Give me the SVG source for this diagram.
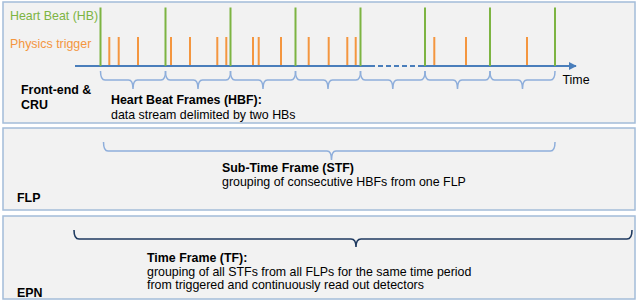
<svg xmlns="http://www.w3.org/2000/svg" width="640" height="304" viewBox="0 0 640 304">
<defs>
<style>
.panel{fill:#f2f2f2;stroke:#a3bcd9;stroke-width:1.5}
text{font-family:"Liberation Sans",Arial,sans-serif;font-size:12.4px;fill:#000}
.b{font-weight:bold}
.hb{stroke:#7db442;stroke-width:2}
.tr{stroke:#f4963f;stroke-width:2}
.axis{stroke:#4a7ebb;stroke-width:2;fill:none}
.br{fill:none;stroke:#8eaedb;stroke-width:1.5}
.br2{fill:none;stroke:#1f3a60;stroke-width:1.6}
</style>
<marker id="ah" viewBox="0 0 10 10" refX="9" refY="5" markerWidth="4" markerHeight="4" orient="auto" markerUnits="strokeWidth">
<path d="M0,0 L10,5 L0,10 z" fill="#4a7ebb"/>
</marker>
</defs>
<rect width="640" height="304" fill="#ffffff"/>
<g id="frontend">
<rect class="panel" x="3" y="2" width="632" height="121"/>
<text x="10" y="20" style="fill:#7db442">Heart Beat (HB)</text>
<text x="10" y="47.5" style="fill:#f4963f">Physics trigger</text>
<text class="b" x="21" y="94">Front-end &amp;</text>
<text class="b" x="21" y="109">CRU</text>
<text class="b" x="111" y="104">Heart Beat Frames (HBF):</text>
<text x="111" y="118.5">data stream delimited by two HBs</text>
<text x="562.5" y="84">Time</text>
</g>
<g id="flp">
<rect class="panel" x="3" y="128" width="632" height="82"/>
<text class="b" x="222" y="172">Sub-Time Frame (STF)</text>
<text x="222" y="186">grouping of consecutive HBFs from one FLP</text>
<text class="b" x="17" y="202">FLP</text>
</g>
<g id="epn">
<rect class="panel" x="3" y="216" width="632" height="83"/>
<text class="b" x="147" y="262">Time Frame (TF):</text>
<text x="147" y="276">grouping of all STFs from all FLPs for the same time period</text>
<text x="147" y="289">from triggered and continuously read out detectors</text>
<text class="b" x="17" y="297">EPN</text>
</g>
<g id="connectors">
<path class="axis" d="M75,66 H370" />
<path class="axis" d="M370,66 H418" stroke-dasharray="5,3"/>
<path class="axis" d="M418,66 H576" marker-end="url(#ah)"/>
<g class="hb">
<line x1="100.5" y1="7.5" x2="100.5" y2="66"/>
<line x1="165.5" y1="7.5" x2="165.5" y2="66"/>
<line x1="230.5" y1="7.5" x2="230.5" y2="66"/>
<line x1="295.5" y1="7.5" x2="295.5" y2="66"/>
<line x1="360.5" y1="7.5" x2="360.5" y2="66"/>
<line x1="425" y1="7.5" x2="425" y2="66"/>
<line x1="490" y1="7.5" x2="490" y2="66"/>
<line x1="555" y1="7.5" x2="555" y2="66"/>
</g>
<g class="tr">
<line x1="109.3" y1="37" x2="109.3" y2="65"/>
<line x1="118.7" y1="37" x2="118.7" y2="65"/>
<line x1="138" y1="37" x2="138" y2="65"/>
<line x1="171" y1="37" x2="171" y2="65"/>
<line x1="190" y1="37" x2="190" y2="65"/>
<line x1="217.3" y1="37" x2="217.3" y2="65"/>
<line x1="226.3" y1="37" x2="226.3" y2="65"/>
<line x1="253" y1="37" x2="253" y2="65"/>
<line x1="258.7" y1="37" x2="258.7" y2="65"/>
<line x1="281" y1="37" x2="281" y2="65"/>
<line x1="308.7" y1="37" x2="308.7" y2="65"/>
<line x1="328.7" y1="37" x2="328.7" y2="65"/>
<line x1="347.3" y1="37" x2="347.3" y2="65"/>
<line x1="355.7" y1="37" x2="355.7" y2="65"/>
<line x1="434.3" y1="37" x2="434.3" y2="65"/>
<line x1="466" y1="37" x2="466" y2="65"/>
<line x1="527" y1="37" x2="527" y2="65"/>
</g>
<g class="br">
<path d="M100.5,71 Q100.5,80 105,80 H128.5 Q133,80 133,89 Q133,80 137.5,80 H161 Q165.5,80 165.5,71"/>
<path d="M165.5,71 Q165.5,80 170,80 H193.5 Q198,80 198,89 Q198,80 202.5,80 H226 Q230.5,80 230.5,71"/>
<path d="M230.5,71 Q230.5,80 235,80 H258.5 Q263,80 263,89 Q263,80 267.5,80 H291 Q295.5,80 295.5,71"/>
<path d="M295.5,71 Q295.5,80 300,80 H323.5 Q328,80 328,89 Q328,80 332.5,80 H356 Q360.5,80 360.5,71"/>
<path d="M360.5,71 Q360.5,80 365,80 H388.3 Q392.8,80 392.8,89 Q392.8,80 397.3,80 H420.5 Q425,80 425,71"/>
<path d="M425,71 Q425,80 429.5,80 H453 Q457.5,80 457.5,89 Q457.5,80 462,80 H485.5 Q490,80 490,71"/>
<path d="M490,71 Q490,80 494.5,80 H518 Q522.5,80 522.5,89 Q522.5,80 527,80 H550.5 Q555,80 555,71"/>
<path d="M103.5,142 Q103.5,151 108,151 H327 Q331.5,151 331.5,160 Q331.5,151 336,151 H550.5 Q555,151 555,142"/>
</g>
<path class="br2" d="M74,230 Q74,239 79,239 H351 Q356,239 356,247 Q356,239 361,239 H627 Q632,239 632,230"/>
</g>
</svg>
